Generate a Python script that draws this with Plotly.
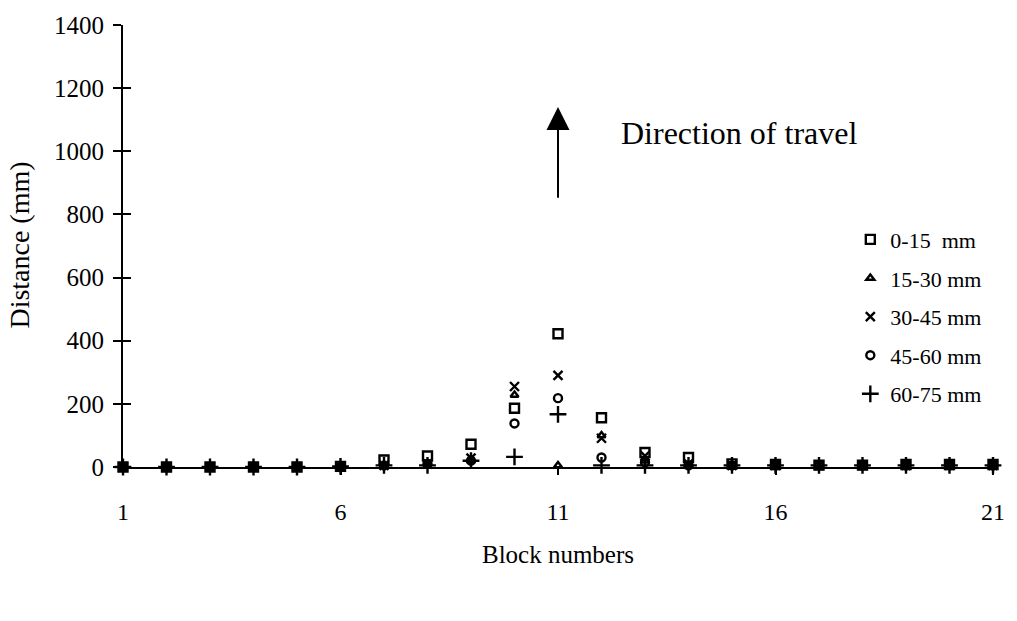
import plotly.graph_objects as go

blocks = list(range(1, 22))
series_names = ["0-15  mm", "15-30 mm", "30-45 mm", "45-60 mm", "60-75 mm"]
d_0_15 = [0, 0, 0, 0, 0, 2, 22, 35, 72, 186, 422, 156, 46, 30, 10, 8, 6, 6, 8, 8, 8]
d_15_30 = [0, 0, 0, 0, 0, 0, 5, 10, 20, 228, 5, 100, 20, 5, 0, 0, 0, 0, 0, 0, 0]
d_30_45 = [0, 0, 0, 0, 0, 0, 5, 10, 28, 255, 290, 91, 35, 10, 5, 5, 5, 5, 5, 5, 5]
d_45_60 = [0, 0, 0, 0, 0, 0, 5, 10, 20, 138, 218, 30, 15, 5, 5, 5, 5, 5, 5, 5, 5]
d_60_75 = [0, 0, 0, 0, 0, 2, 5, 5, 20, 32, 167, 5, 5, 5, 5, 5, 5, 5, 5, 5, 5]
x_ticks = [1, 6, 11, 16, 21]
y_ticks = [0, 200, 400, 600, 800, 1000, 1200, 1400]

symbols = ["square-open", "triangle-up-open", "x-thin-open", "circle-open", "cross-thin-open"]
sizes = [9, 7, 9, 8, 12]
data = [d_0_15, d_15_30, d_30_45, d_45_60, d_60_75]

FONT = "Liberation Serif"
fig = go.Figure()
for i, (name, vals) in enumerate(zip(series_names, data)):
    fig.add_trace(go.Scatter(
        x=blocks, y=vals, mode="markers", name=name, legendgroup=name,
        marker=dict(symbol=symbols[i], size=sizes[i], color="black",
                    line=dict(color="black", width=2.4)),
        cliponaxis=False,
    ))
# helper trace for inward ticks on y axis
fig.add_trace(go.Scatter(x=[None], y=[None], yaxis="y2", showlegend=False, hoverinfo="skip"))

fig.add_annotation(x=11, y=1140, ax=11, ay=848, xref="x", yref="y", axref="x", ayref="y",
                   text="", showarrow=True, arrowhead=2, arrowsize=2.3, arrowwidth=2, arrowcolor="black")
fig.add_annotation(x=12.4, y=1058, xref="x", yref="y", text="Direction of travel", showarrow=False,
                   xanchor="left", yanchor="middle", font=dict(family=FONT, size=32, color="black"))
fig.add_annotation(x=-0.119, y=0.502, xref="paper", yref="paper", text="Distance (mm)",
                   textangle=-90, showarrow=False, xanchor="center", yanchor="middle",
                   font=dict(family=FONT, size=28, color="black"))

fig.update_layout(
    width=1017, height=621,
    margin=dict(l=123, r=12, t=25, b=154),
    paper_bgcolor="white", plot_bgcolor="white",
    font=dict(family=FONT, color="black", size=24),
    showlegend=True,
    legend=dict(x=0.836, y=0.562, xanchor="left", yanchor="top", bgcolor="rgba(0,0,0,0)",
                font=dict(family=FONT, size=22, color="black"), tracegroupgap=7,
                traceorder="grouped"),
    xaxis=dict(range=[1, 21], tickvals=x_ticks, showgrid=False, zeroline=False,
               showline=True, linecolor="black", linewidth=2, ticks="outside", ticklen=6,
               tickwidth=1.5, tickcolor="black", ticklabelstandoff=16,
               title=dict(text="Block numbers", standoff=22, font=dict(size=25))),
    yaxis=dict(range=[0, 1400], tickvals=y_ticks, showgrid=False, zeroline=False,
               showline=True, linecolor="black", linewidth=2, ticks="outside", ticklen=8,
               tickwidth=1.5, tickcolor="black", ticklabelstandoff=4, tickfont=dict(size=25)),
    yaxis2=dict(range=[0, 1400], tickvals=y_ticks, overlaying="y", anchor="x", side="left",
                showgrid=False, zeroline=False, showline=False, ticks="inside", ticklen=8,
                tickwidth=1.5, tickcolor="black", showticklabels=False),
)

fig.write_html("out.html")
